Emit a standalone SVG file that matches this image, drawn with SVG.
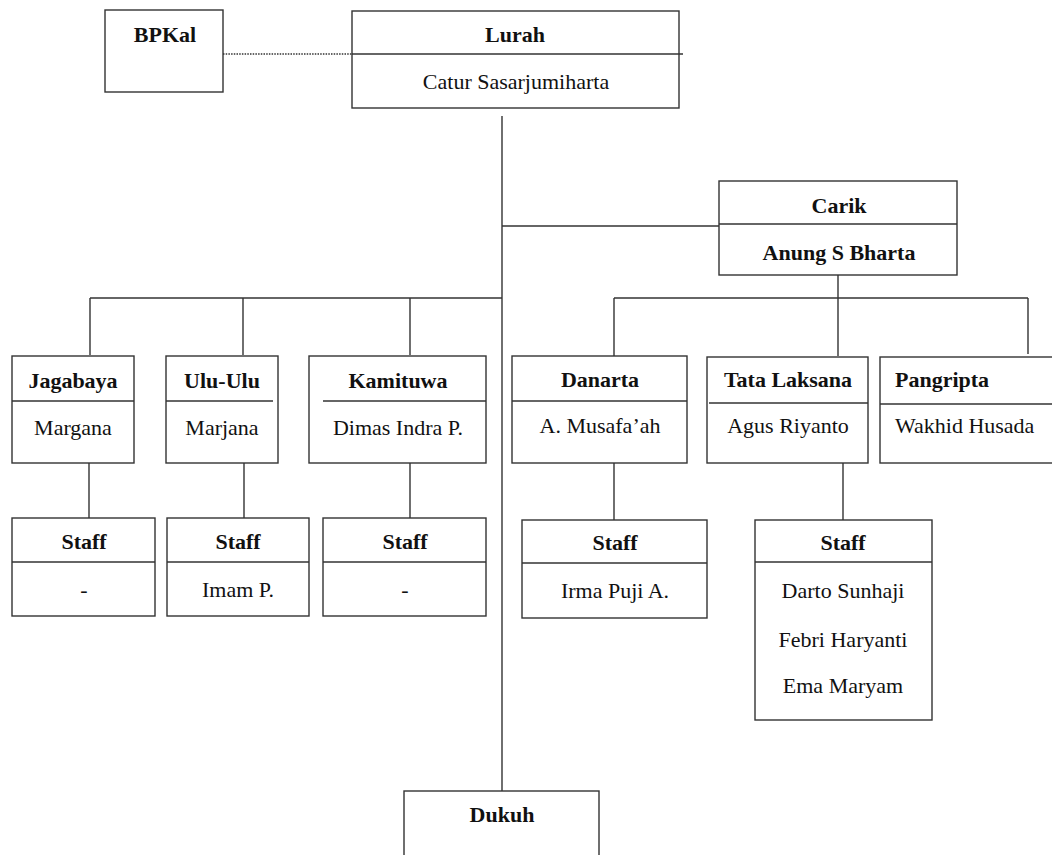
<svg xmlns="http://www.w3.org/2000/svg" width="1052" height="855" viewBox="0 0 1052 855">
<style>
.box{fill:#fff;stroke:#333;stroke-width:1.4}
.div{stroke:#333;stroke-width:1.4}
.con{stroke:#333;stroke-width:1.4;fill:none}
text{font-family:"Liberation Serif","Times New Roman",serif;font-size:22px;fill:#111;text-anchor:middle}
.b{font-weight:bold}
.l{text-anchor:start}
</style>
<rect width="1052" height="855" fill="#fff"/>
<g id="connectors">
<line class="con" x1="223" y1="54" x2="352" y2="54" stroke-dasharray="1.5,1.2" stroke-width="1.2"/>
<line class="con" x1="502" y1="116" x2="502" y2="791"/>
<line class="con" x1="502" y1="226" x2="719" y2="226"/>
<line class="con" x1="90" y1="298" x2="502" y2="298"/>
<line class="con" x1="90" y1="298" x2="90" y2="355"/>
<line class="con" x1="243" y1="298" x2="243" y2="355"/>
<line class="con" x1="410" y1="298" x2="410" y2="355"/>
<line class="con" x1="89" y1="463" x2="89" y2="518"/>
<line class="con" x1="244" y1="463" x2="244" y2="518"/>
<line class="con" x1="410" y1="463" x2="410" y2="518"/>
<line class="con" x1="838" y1="275" x2="838" y2="356"/>
<line class="con" x1="614" y1="298" x2="1028" y2="298"/>
<line class="con" x1="614" y1="298" x2="614" y2="356"/>
<line class="con" x1="1028" y1="298" x2="1028" y2="354"/>
<line class="con" x1="614" y1="463" x2="614" y2="520"/>
<line class="con" x1="843" y1="463" x2="843" y2="520"/>
</g>
<g id="bpkal">
<rect class="box" x="105" y="10" width="118" height="82"/>
<text class="b" x="165" y="42">BPKal</text>
</g>
<g id="lurah">
<rect class="box" x="352" y="11" width="327" height="97"/>
<line class="div" x1="352" y1="54" x2="683" y2="54"/>
<text class="b" x="515" y="42">Lurah</text>
<text x="516" y="89">Catur Sasarjumiharta</text>
</g>
<g id="carik">
<rect class="box" x="719" y="181" width="238" height="94"/>
<line class="div" x1="719" y1="224" x2="957" y2="224"/>
<text class="b" x="839" y="213">Carik</text>
<text class="b" x="839" y="260">Anung S Bharta</text>
</g>
<g id="jagabaya">
<rect class="box" x="12" y="356" width="122" height="107"/>
<line class="div" x1="12" y1="401" x2="134" y2="401"/>
<text class="b" x="73" y="388">Jagabaya</text>
<text x="73" y="435">Margana</text>
</g>
<g id="uluulu">
<rect class="box" x="166" y="356" width="112" height="107"/>
<line class="div" x1="166" y1="401" x2="273" y2="401"/>
<text class="b" x="222" y="388">Ulu-Ulu</text>
<text x="222" y="435">Marjana</text>
</g>
<g id="kamituwa">
<rect class="box" x="309" y="356" width="177" height="107"/>
<line class="div" x1="323" y1="401" x2="486" y2="401"/>
<text class="b" x="398" y="388">Kamituwa</text>
<text x="398" y="435">Dimas Indra P.</text>
</g>
<g id="staff-jagabaya">
<rect class="box" x="12" y="518" width="143" height="98"/>
<line class="div" x1="12" y1="562" x2="155" y2="562"/>
<text class="b" x="84" y="549">Staff</text>
<text x="84" y="597">-</text>
</g>
<g id="staff-uluulu">
<rect class="box" x="167" y="518" width="142" height="98"/>
<line class="div" x1="167" y1="562" x2="309" y2="562"/>
<text class="b" x="238" y="549">Staff</text>
<text x="238" y="597">Imam P.</text>
</g>
<g id="staff-kamituwa">
<rect class="box" x="323" y="518" width="163" height="98"/>
<line class="div" x1="323" y1="562" x2="486" y2="562"/>
<text class="b" x="405" y="549">Staff</text>
<text x="405" y="597">-</text>
</g>
<g id="danarta">
<rect class="box" x="512" y="356" width="175" height="107"/>
<line class="div" x1="512" y1="401" x2="687" y2="401"/>
<text class="b" x="600" y="387">Danarta</text>
<text x="600" y="433">A. Musafa’ah</text>
</g>
<g id="tatalaksana">
<rect class="box" x="707" y="357" width="161" height="106"/>
<line class="div" x1="709" y1="403" x2="868" y2="403"/>
<text class="b" x="788" y="387">Tata Laksana</text>
<text x="788" y="433">Agus Riyanto</text>
</g>
<g id="pangripta">
<rect class="box" x="880" y="357" width="180" height="106"/>
<line class="div" x1="880" y1="404" x2="1060" y2="404"/>
<text class="b l" x="895" y="387">Pangripta</text>
<text class="l" x="895" y="433">Wakhid Husada</text>
</g>
<g id="staff-danarta">
<rect class="box" x="522" y="520" width="185" height="98"/>
<line class="div" x1="522" y1="563" x2="707" y2="563"/>
<text class="b" x="615" y="550">Staff</text>
<text x="615" y="598">Irma Puji A.</text>
</g>
<g id="staff-tatalaksana">
<rect class="box" x="755" y="520" width="177" height="200"/>
<line class="div" x1="755" y1="562" x2="932" y2="562"/>
<text class="b" x="843" y="550">Staff</text>
<text x="843" y="598">Darto Sunhaji</text>
<text x="843" y="647">Febri Haryanti</text>
<text x="843" y="693">Ema Maryam</text>
</g>
<g id="dukuh">
<rect class="box" x="404" y="791" width="195" height="80"/>
<text class="b" x="502" y="822">Dukuh</text>
</g>
</svg>
